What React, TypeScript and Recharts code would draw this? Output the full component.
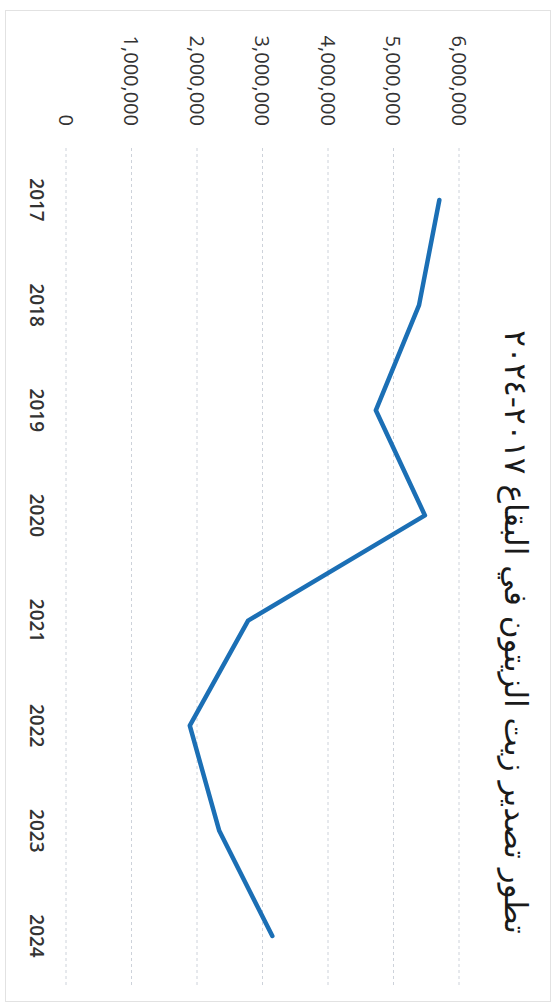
import React from "react";
import { LineChart, Line, XAxis, YAxis, CartesianGrid } from "recharts";

const years = ["2017", "2018", "2019", "2020", "2021", "2022", "2023", "2024"];
const exports = [5700000, 5390000, 4730000, 5480000, 2780000, 1890000, 2340000, 3150000];
const valueTicks = [0, 1000000, 2000000, 3000000, 4000000, 5000000, 6000000];
const title = "تطور تصدير زيت الزيتون في البقاع ٢٠١٧-٢٠٢٤";

const rows = years.map((year, i) => ({ year, value: exports[i] }));

// the source chart is printed sideways, so draw it landscape and turn it
const W = 1007;
const H = 558;

export default function App() {
    return (
        <div
            style={{
                position: "absolute",
                left: 0,
                top: 0,
                width: W,
                height: H,
                background: "#fff",
                transformOrigin: "0 0",
                transform: `translateX(${H}px) rotate(90deg)`,
                fontFamily: "'Open Sans', sans-serif",
            }}
        >
            <div
                style={{
                    position: "absolute",
                    left: 10,
                    top: 7,
                    width: 990,
                    height: 544,
                    border: "1px solid #e2e2e2",
                }}
            />
            <div
                style={{
                    position: "absolute",
                    left: 632,
                    top: 42,
                    transform: "translate(-50%, -50%)",
                    whiteSpace: "nowrap",
                    direction: "rtl",
                    fontFamily: "'DejaVu Sans', sans-serif",
                    fontSize: 31,
                    color: "#1a1a1a",
                }}
            >
                {title}
            </div>
            <LineChart
                width={W}
                height={H}
                data={rows}
                margin={{ top: 99, right: 19, bottom: 36, left: 0 }}
                style={{ position: "absolute", left: 0, top: 0 }}
            >
                <CartesianGrid vertical={false} stroke="#cdd2da" strokeDasharray="3 3" />
                <XAxis
                    dataKey="year"
                    height={30}
                    axisLine={false}
                    tickLine={false}
                    tickMargin={17}
                    padding={{ left: 52, right: 52 }}
                    tick={{ fill: "#333", fontSize: 19, fontWeight: 600 }}
                />
                <YAxis
                    width={148}
                    domain={[0, 6000000]}
                    ticks={valueTicks}
                    axisLine={false}
                    tickLine={false}
                    tickMargin={16}
                    tickFormatter={(v: number) => v.toLocaleString("en-US")}
                    tick={{ fill: "#333", fontSize: 20 }}
                />
                <Line
                    type="linear"
                    dataKey="value"
                    stroke="#1b6fb5"
                    strokeWidth={4.5}
                    dot={false}
                    activeDot={false}
                    strokeLinejoin="round"
                    strokeLinecap="round"
                    isAnimationActive={false}
                />
            </LineChart>
        </div>
    );
}
